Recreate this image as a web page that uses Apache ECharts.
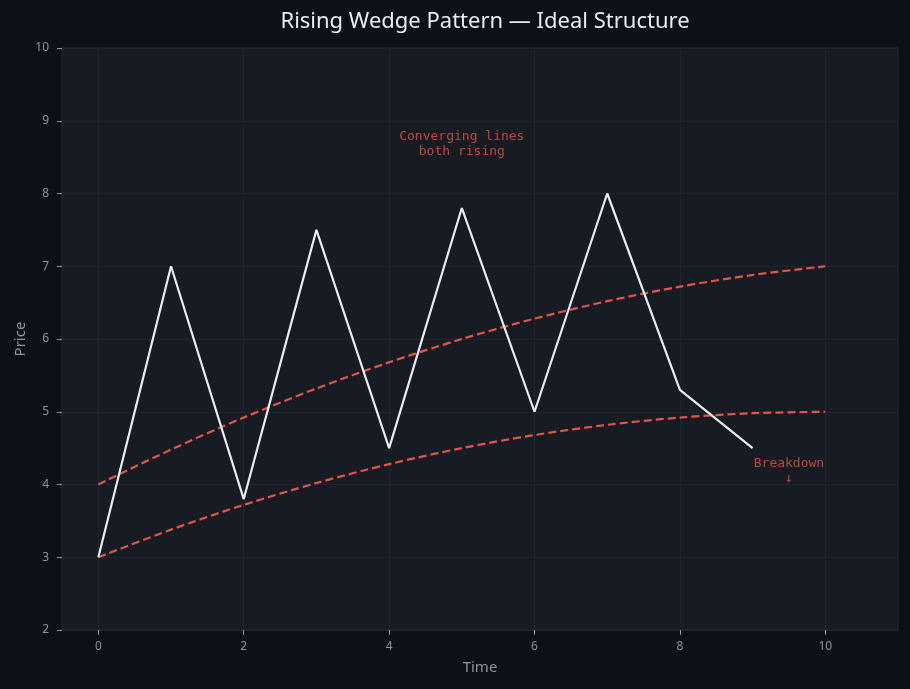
<!DOCTYPE html>
<html>
<head>
<meta charset="utf-8">
<script src="https://cdn.jsdelivr.net/npm/echarts@6/dist/echarts.min.js"></script>
<style>
  html, body { margin: 0; padding: 0; background: #0d1117; }
  #chart { width: 910px; height: 689px; }
</style>
</head>
<body>
<div id="chart"></div>
<script>
// price path (zig-zag inside the wedge, then the breakdown)
const priceX = [0, 1, 2, 3, 4, 5, 6, 7, 8, 9];
const priceY = [3, 7, 3.8, 7.5, 4.5, 7.8, 5, 8, 5.3, 4.5];

// wedge boundaries at each time step
const lineX = [0, 1, 2, 3, 4, 5, 6, 7, 8, 9, 10];
const upperY = [4.0, 4.48, 4.92, 5.32, 5.68, 6.0, 6.28, 6.52, 6.72, 6.88, 7.0];
const lowerY = [3.0, 3.38, 3.72, 4.02, 4.28, 4.5, 4.68, 4.82, 4.92, 4.98, 5.0];

// tick labels
const xTicks = [0, 2, 4, 6, 8, 10];
const yTicks = [2, 3, 4, 5, 6, 7, 8, 9, 10];

// annotations
const notes = [
  { text: 'Converging lines\nboth rising', x: 5, y: 8.68 },
  { text: 'Breakdown\n\u2193', x: 9.5, y: 4.18 }
];

const red = '#e5534b';
const muted = '#8b949e';
const zip = (xs, ys) => xs.map((x, i) => [x, ys[i]]);

const chart = echarts.init(document.getElementById('chart'));

const option = {
  backgroundColor: '#0d1117',
  animation: false,
  title: {
    text: 'Rising Wedge Pattern \u2014 Ideal Structure',
    left: 480,
    textAlign: 'center',
    top: 6,
    textStyle: { color: '#e6edf3', fontSize: 22, fontWeight: 'normal', fontFamily: 'Noto Sans' }
  },
  grid: {
    left: 62, right: 12, top: 48, bottom: 59,
    show: true,
    backgroundColor: '#171b22',
    borderColor: '#262b33',
    borderWidth: 1
  },
  xAxis: {
    type: 'value',
    min: -0.5,
    max: 11,
    name: 'Time',
    nameLocation: 'middle',
    nameGap: 30,
    nameTextStyle: { color: muted, fontSize: 15, fontFamily: 'Noto Sans' },
    axisLine: { show: false, onZero: false },
    axisTick: { show: true, customValues: xTicks, length: 5, lineStyle: { color: muted } },
    axisLabel: { customValues: xTicks, color: muted, fontSize: 12, fontFamily: 'Noto Sans', margin: 11 },
    splitLine: { show: true, customValues: xTicks, lineStyle: { color: '#20252d', width: 1 } }
  },
  yAxis: {
    type: 'value',
    min: 2,
    max: 10,
    interval: 1,
    name: 'Price',
    nameLocation: 'middle',
    nameGap: 34,
    nameMoveOverlap: false,
    nameTextStyle: { color: muted, fontSize: 15, fontFamily: 'Noto Sans' },
    axisLine: { show: false, onZero: false },
    axisTick: { show: true, customValues: yTicks, length: 5, lineStyle: { color: muted } },
    axisLabel: { customValues: yTicks, color: muted, fontSize: 12, fontFamily: 'Noto Sans', margin: 13 },
    splitLine: { show: true, lineStyle: { color: '#20252d', width: 1 } }
  },
  series: [
    {
      type: 'line',
      data: zip(lineX, upperY),
      smooth: 0.3,
      showSymbol: false,
      lineStyle: { color: red, width: 2.2, type: [8, 4] },
      z: 2
    },
    {
      type: 'line',
      data: zip(lineX, lowerY),
      smooth: 0.3,
      showSymbol: false,
      lineStyle: { color: red, width: 2.2, type: [8, 4] },
      z: 2
    },
    {
      type: 'line',
      data: zip(priceX, priceY),
      showSymbol: false,
      lineStyle: { color: '#e6edf3', width: 2.2 },
      z: 3
    },
    {
      type: 'scatter',
      symbolSize: 0,
      data: notes.map(n => ({ value: [n.x, n.y], name: n.text })),
      label: {
        show: true,
        position: 'inside',
        formatter: p => p.name,
        color: red,
        fontSize: 13,
        lineHeight: 15,
        align: 'center',
        fontFamily: 'DejaVu Sans Mono'
      },
      z: 4
    }
  ]
};

chart.setOption(option);
</script>
</body>
</html>
